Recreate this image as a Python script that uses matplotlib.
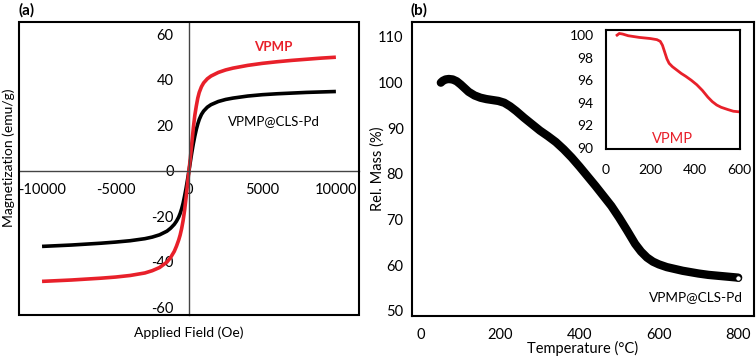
import matplotlib
matplotlib.use('Agg')
import matplotlib.pyplot as plt
from matplotlib.patches import Rectangle

plt.rcParams['font.family'] = ['Lato', 'DejaVu Sans']

# (a) magnetization curves
field_red = [-10000, -9000, -8000, -7000, -6000, -5000, -4000, -3000, -2500, -2000, -1500,
             -1250, -1000, -850, -700, -600, -500, -400, -300, -200, -100,
             0, 100, 200, 300, 400, 500, 600, 700, 850, 1000, 1250, 1500, 2000, 2500, 3000,
             4000, 5000, 6000, 7000, 8000, 9000, 10000]
mag_red = [-48.7, -48.4, -48.1, -47.7, -47.3, -46.8, -46.1, -45.0, -44.0, -42.6, -40.2,
           -38.2, -35.5, -33.2, -30.5, -28.3, -25.5, -22.0, -17.5, -12.0, -6.0,
           0.0, 6.0, 12.5, 19.0, 24.5, 28.5, 32.0, 34.5, 37.0, 38.7, 40.5, 41.7, 43.3, 44.4, 45.2,
           46.4, 47.3, 48.0, 48.6, 49.1, 49.6, 50.0]
field_blk = [-10000, -9000, -8000, -7000, -6000, -5000, -4000, -3000, -2500, -2000, -1500,
             -1250, -1000, -850, -700, -600, -500, -400, -300, -200, -100,
             0, 100, 200, 300, 400, 500, 600, 700, 850, 1000, 1250, 1500, 2000, 2500, 3000,
             4000, 5000, 6000, 7000, 8000, 9000, 10000]
mag_blk = [-33.3, -33.0, -32.7, -32.3, -31.9, -31.4, -30.8, -29.9, -29.2, -28.2, -26.6,
           -25.3, -23.6, -22.2, -20.4, -18.8, -16.8, -14.3, -11.2, -7.8, -4.0,
           0.0, 4.2, 8.3, 12.0, 15.3, 18.2, 20.6, 22.6, 24.8, 26.3, 28.0, 29.1, 30.5, 31.4, 32.0,
           32.9, 33.5, 33.9, 34.2, 34.5, 34.7, 34.9]
a_xticks = [-10000, -5000, 0, 5000, 10000]
a_yticks = [-60, -40, -20, 0, 20, 40, 60]

# (b) TGA of VPMP@CLS-Pd
temp_blk = [50, 55, 62, 70, 80, 90, 100, 110, 120, 135, 150, 165, 180, 195, 210, 225, 240,
            260, 280, 300, 320, 340, 360, 380, 400, 420, 440, 460, 480, 500, 520, 540, 555,
            570, 585, 600, 620, 640, 660, 680, 700, 725, 750, 775, 800]
mass_blk = [100.0, 100.4, 100.7, 100.8, 100.7, 100.3, 99.6, 98.8, 98.0, 97.2, 96.7, 96.4,
            96.2, 96.0, 95.6, 94.8, 93.8, 92.3, 90.9, 89.5, 88.3, 87.0, 85.4, 83.6, 81.6,
            79.5, 77.4, 75.2, 73.0, 70.4, 67.6, 64.7, 63.0, 61.7, 60.8, 60.2, 59.6, 59.2,
            58.8, 58.5, 58.2, 57.9, 57.7, 57.5, 57.3]
b_xticks = [0, 200, 400, 600, 800]
b_yticks = [50, 60, 70, 80, 90, 100, 110]

# inset: TGA of VPMP
temp_red = [50, 60, 75, 100, 150, 200, 230, 245, 255, 265, 275, 285, 300, 320, 340, 360, 385,
            410, 435, 460, 480, 500, 520, 550, 575, 600]
mass_red = [100.0, 100.15, 100.1, 99.95, 99.8, 99.7, 99.6, 99.45, 99.1, 98.5, 97.9, 97.5,
            97.2, 96.9, 96.6, 96.35, 96.0, 95.6, 95.1, 94.5, 94.1, 93.8, 93.6, 93.4, 93.25, 93.2]
ins_xticks = [0, 200, 400, 600]
ins_yticks = [90, 92, 94, 96, 98, 100]

RED = '#e8202a'
fs = 10.5

fig = plt.figure(figsize=(7.56, 3.56), dpi=100)

# ---- panel (a)
ax_a = fig.add_axes([0.0251, 0.1152, 0.4497, 0.823])
ax_a.plot(field_blk, mag_blk, c='black', lw=2.6, solid_capstyle='butt')
ax_a.plot(field_red, mag_red, c=RED, lw=2.6, solid_capstyle='butt')
ax_a.set_xlim(-11570, 11570)
ax_a.set_ylim(-63.5, 65.5)
for s in ['top', 'right']:
    ax_a.spines[s].set_visible(False)
ax_a.spines['left'].set_position('zero')
ax_a.spines['bottom'].set_position('zero')
for s in ['left', 'bottom']:
    ax_a.spines[s].set_color('#444444')
    ax_a.spines[s].set_linewidth(1.0)
ax_a.add_patch(Rectangle((0, 0), 1, 1, transform=ax_a.transAxes, fill=False,
                         lw=1.5, ec='black', clip_on=False, zorder=5))
ax_a.set_xticks(a_xticks)
ax_a.set_yticks(a_yticks)
ax_a.set_xticklabels([str(v) for v in a_xticks], fontsize=fs)
ax_a.set_yticklabels([str(v) for v in a_yticks], fontsize=fs)
ax_a.tick_params(axis='both', length=0)
ax_a.tick_params(axis='x', pad=9)
ax_a.tick_params(axis='y', pad=11)
ax_a.set_xlabel('Applied Field (Oe)', fontsize=10)
ax_a.set_ylabel('Magnetization (emu/g)', fontsize=10)
ax_a.xaxis.set_label_coords(0.5, -0.04)
ax_a.yaxis.set_label_coords(-0.011, 0.536)
ax_a.text(5750, 54.4, 'VPMP', color=RED, fontsize=9.5, fontweight='bold', ha='center', va='center')
ax_a.text(5800, 21.9, 'VPMP@CLS-Pd', color='black', fontsize=9.5, ha='center', va='center')
fig.text(0.024, 0.972, '(a)', fontsize=fs + 0.5, fontweight='bold', ha='left', va='center')

# ---- panel (b)
ax_b = fig.add_axes([0.545, 0.1124, 0.4524, 0.826])
ax_b.plot(temp_blk, mass_blk, c='black', lw=6, solid_capstyle='round')
ax_b.plot(temp_blk[-1:], mass_blk[-1:], 'o', ms=4, mfc='white', mec='black', mew=0.8)
ax_b.set_xlim(-22.7, 840)
ax_b.set_ylim(48.9, 113.3)
for s in ax_b.spines.values():
    s.set_linewidth(1.5)
ax_b.set_xticks(b_xticks)
ax_b.set_yticks(b_yticks)
ax_b.set_xticklabels([str(v) for v in b_xticks], fontsize=fs)
ax_b.set_yticklabels([str(v) for v in b_yticks], fontsize=fs)
ax_b.tick_params(axis='both', length=0)
ax_b.tick_params(axis='x', pad=9)
ax_b.tick_params(axis='y', pad=6)
ax_b.set_xlabel('Temperature (\u00b0C)', fontsize=fs)
ax_b.set_ylabel('Rel. Mass (%)', fontsize=fs)
ax_b.xaxis.set_label_coords(0.5, -0.085)
ax_b.yaxis.set_label_coords(-0.08, 0.5)
ax_b.text(694, 53.1, 'VPMP@CLS-Pd', fontsize=9.8, ha='center', va='center')
fig.text(0.543, 0.972, '(b)', fontsize=fs + 0.5, fontweight='bold', ha='left', va='center')

# ---- inset
ax_in = fig.add_axes([0.8016, 0.5815, 0.1772, 0.334])
ax_in.plot(temp_red, mass_red, c=RED, lw=2)
ax_in.set_xlim(0, 605)
ax_in.set_ylim(89.9, 100.45)
for s in ax_in.spines.values():
    s.set_linewidth(1.5)
ax_in.set_xticks(ins_xticks)
ax_in.set_yticks(ins_yticks)
ax_in.set_xticklabels([str(v) for v in ins_xticks], fontsize=fs - 0.5)
ax_in.set_yticklabels([str(v) for v in ins_yticks], fontsize=fs - 0.5)
ax_in.tick_params(axis='both', length=0)
ax_in.tick_params(axis='x', pad=11)
ax_in.tick_params(axis='y', pad=9)
ax_in.text(300, 90.8, 'VPMP', color=RED, fontsize=fs, ha='center', va='center')

fig.savefig('out.png', dpi=100)
